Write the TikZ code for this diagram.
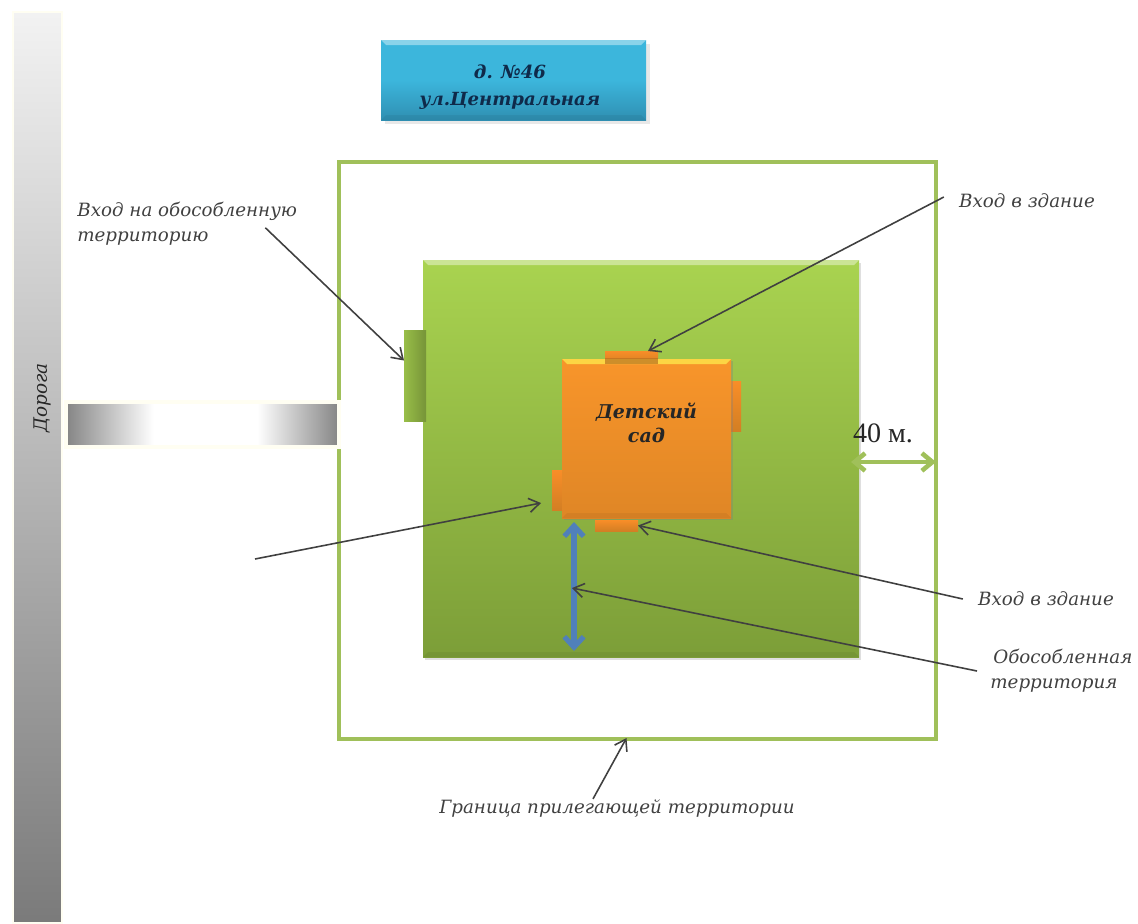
\documentclass[tikz,border=0pt]{standalone}
\usepackage{fontspec}
\setmainfont{Liberation Serif}
\newfontfamily\labelfont{DejaVu Serif}
\usepackage{xcolor}
\usetikzlibrary{arrows.meta, positioning, shadows}

\definecolor{bordergreen}{HTML}{A0C05A}
\definecolor{yardtop}{HTML}{A9D350}
\definecolor{yardbot}{HTML}{7C9E38}
\definecolor{blockorange}{HTML}{F8952A}
\definecolor{signblue}{HTML}{3CB6DC}
\definecolor{signdark}{HTML}{2F8FB2}
\definecolor{darkblue}{HTML}{0F2A4A}
\definecolor{arrowblue}{HTML}{5080BA}

\pgfdeclarehorizontalshading{lanefade}{100bp}{color(0bp)=(black!48); color(25bp)=(black!48); color(41bp)=(white); color(60bp)=(white); color(75bp)=(black!48); color(100bp)=(black!48)}

\tikzset{
    pxbox/.style 2 args={inner sep=0pt, outer sep=0pt, minimum width=#1*0.02cm, minimum height=#2*0.02cm},
    note/.style={font=\labelfont\itshape\fontsize{10.4}{14}\selectfont, text=black!75, align=left, inner sep=0pt},
    boldnote/.style={font=\labelfont\itshape\bfseries\fontsize{10.3}{15.5}\selectfont, align=center},
    pointer/.style={-{Straight Barb[length=6pt,width=8pt]}, line width=0.9pt, black!75},
    tab/.style={top color=blockorange!95!red, bottom color=blockorange!85!black}
}

\newcommand{\bevel}[3]{
    \fill[#2] (#1.north west) -- (#1.north east) -- ([xshift=-#3,yshift=-#3]#1.north east) -- ([xshift=#3,yshift=-#3]#1.north west) -- cycle;
    \fill[black, opacity=0.05] (#1.south west) -- (#1.south east) -- ([xshift=-#3,yshift=#3]#1.south east) -- ([xshift=#3,yshift=#3]#1.south west) -- cycle;
}

\begin{document}
\begin{tikzpicture}[x=0.02cm, y=-0.02cm]
    \useasboundingbox (0,0) rectangle (1138,923);

    \node[pxbox={49}{911}, top color=black!5, bottom color=black!52, draw=yellow!5!white, line width=1.2pt] (road) at (37.5,467.5) {};
    \node[rotate=90, font=\labelfont\itshape\fontsize{10.5}{14}\selectfont, text=black!85] (roadname) at (42,398) {Дорога};

    \node[pxbox={265}{80}, top color=signblue, bottom color=signdark, middle color=signblue, drop shadow={opacity=0.18}] (sign) at (513.5,80) {};
    \bevel{sign}{signblue!60!white}{0.1cm}
    \node[boldnote, text=darkblue] (signtext) at (510,87) {д. №46\\ул.Центральная};

    \node[pxbox={597}{577}, draw=bordergreen, line width=2.2pt] (border) at (637.5,450.5) {};
    \node[pxbox={273}{45}, shading=lanefade, draw=yellow!5!white, line width=2.8pt] (lane) at (202.5,424.5) {};

    \node[pxbox={436}{397}, top color=yardtop, bottom color=yardbot, drop shadow={opacity=0.25, shadow xshift=0.04cm, shadow yshift=-0.05cm}] (yard) at (641,458.5) {};
    \bevel{yard}{yardtop!60!white}{0.1cm}
    \node[pxbox={22}{91}, left color=yardtop!90!black, right color=yardtop!70!black] (tabgreen) at (415,375.5) {};

    \node[pxbox={53}{13}, tab] (tabtop) at (631.5,357.5) {};
    \node[pxbox={10}{50}, tab] (tabright) at (736,406) {};
    \node[pxbox={11}{40}, tab] (tableft) at (557.5,490) {};
    \node[pxbox={43}{11}, tab] (tabbot) at (616.5,525.5) {};
    \node[pxbox={169}{159}, top color=blockorange, bottom color=blockorange!90!black, drop shadow={opacity=0.35, shadow xshift=0.04cm, shadow yshift=-0.04cm}] (house) at (646.5,438.5) {};
    \bevel{house}{blockorange!50!yellow!80!white}{0.1cm}
    \node[pxbox={53}{6}, fill=blockorange!75!black, opacity=0.7] (tabshade) at (631.5,361) {};
    \node[boldnote, text=black!85, font=\labelfont\itshape\bfseries\fontsize{10.8}{14}\selectfont] (housetext) at (646.5,423) {Детский\\сад};

    \node[note] (entrytop) at (1027,201) {Вход в здание};
    \node[note] (entrybot) at (1046,599) {Вход в здание};
    \node[note, anchor=west] (entryyard) at (77,224) {Вход на обособленную\\территорию};
    \node[note, anchor=west] (yardname) at (990,671) {\hspace*{0.06cm}Обособленная\\территория};
    \node[note] (bordername) at (617,809) {Граница прилегающей территории};
    \node[font=\fontsize{16}{18}\selectfont, text=black!85] (width) at (883,433) {40 м.};

    \coordinate (freeend) at (255,559);
    \coordinate (bluetop) at (574,522);
    \coordinate (bluebot) at (574,651);
    \coordinate (bluemid) at (572,588);
    \coordinate (widthl) at (851,462);
    \coordinate (widthr) at (936,462);

    \draw[{Straight Barb[length=6pt,width=11pt]}-{Straight Barb[length=6pt,width=11pt]}, line width=2.9pt, arrowblue] (bluetop) -- (bluebot);
    \draw[{Straight Barb[length=6pt,width=10pt]}-{Straight Barb[length=6pt,width=10pt]}, line width=2.6pt, bordergreen] (widthl) -- (widthr);

    \draw[pointer] ([xshift=-0.3cm,yshift=0.08cm]entrytop.west) -- ([xshift=-0.2cm]tabtop.north east);
    \draw[pointer] ([xshift=-0.3cm]entrybot.west) -- (tabbot.east);
    \draw[pointer] ([xshift=-0.64cm,yshift=0.36cm]entryyard.south east) -- ([yshift=0.3cm]tabgreen.west);
    \draw[pointer] (freeend) -- ([xshift=-0.22cm,yshift=0.14cm]tableft.south west);
    \draw[pointer] ([xshift=-0.26cm]yardname.west) -- (bluemid);
    \draw[pointer] ([xshift=-0.48cm,yshift=0.02cm]bordername.north) -- ([xshift=-0.22cm,yshift=0.02cm]border.south);
\end{tikzpicture}
\end{document}
